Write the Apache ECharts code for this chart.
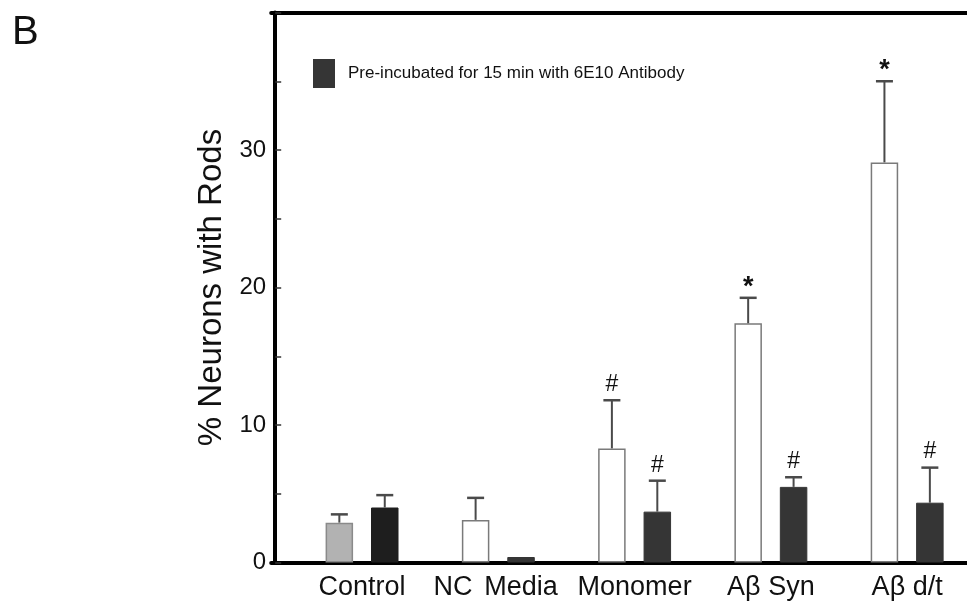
<!DOCTYPE html>
<html>
<head>
<meta charset="utf-8">
<script src="https://cdn.jsdelivr.net/npm/echarts@6/dist/echarts.min.js"></script>
<style>
html,body{margin:0;padding:0;background:#fff;overflow:hidden;width:967px;height:603px;}
#chart{width:1001px;height:603px;}
</style>
</head>
<body>
<div id="chart"></div>
<script>
// ---- data ----
const groups = ['Control', 'NC / Media', 'Monomer', 'Aβ Syn', 'Aβ d/t'];
const plainMeans = [2.9, 3.1, 8.3, 17.4, 29.1];
const plainErrors = [0.6, 1.6, 3.5, 1.85, 5.9];
const plainMarks = ['', '', '#', '*', '*'];
const antibodyMeans = [4.0, 0.4, 3.7, 5.5, 4.35];
const antibodyErrors = [0.9, 0, 2.25, 0.7, 2.55];
const antibodyMarks = ['', '', '#', '#', '#'];
const xTickLabels = ['Control', 'NC', 'Media', 'Monomer', 'Aβ Syn', 'Aβ d/t'];
const legendName = 'Pre-incubated for 15 min with 6E10 Antibody';
const yTicks = [0, 10, 20, 30];

// ---- layout helpers (not data) ----
const labelAt = [2, 4, 5.5, 8, 11, 14];

const slots = ['g0'];
const plainData = [null];
const antibodyData = [null];
const errData = [];
const errMarks = [];
groups.forEach((g, i) => {
  const a = slots.length;
  slots.push(g + ' a', g + ' b', 'gap' + (i + 1));
  const pStyle = i === 0 ? {color: '#b2b2b2', borderColor: '#8a8a8a', borderWidth: 1.5} : undefined;
  const aStyle = i === 0 ? {color: '#1e1e1e', borderColor: '#1e1e1e'} : undefined;
  plainData.push(pStyle ? {value: plainMeans[i], itemStyle: pStyle} : plainMeans[i], null, null);
  antibodyData.push(null, aStyle ? {value: antibodyMeans[i], itemStyle: aStyle} : antibodyMeans[i], null);
  errData.push([a, plainMeans[i], plainErrors[i]]);
  errMarks.push(plainMarks[i]);
  errData.push([a + 1, antibodyMeans[i], antibodyErrors[i]]);
  errMarks.push(antibodyMarks[i]);
});

const chart = echarts.init(document.getElementById('chart'));
const FONT = '"Liberation Sans", Arial, sans-serif';

chart.setOption({
  animation: false,
  backgroundColor: '#fff',
  title: {
    text: 'B', left: 12, top: 13, padding: 0,
    textStyle: {fontFamily: FONT, fontSize: 40, fontWeight: 'normal', color: '#111'}
  },
  legend: {
    data: [legendName],
    left: 313, top: 59, padding: 0,
    icon: 'rect', itemWidth: 20, itemHeight: 27,
    textStyle: {fontFamily: FONT, fontSize: 17, color: '#111', padding: [0, 0, 0, 9]}
  },
  grid: {left: 271.2, right: 0, top: 12.5, bottom: 40.5, containLabel: false},
  xAxis: [
    {
      type: 'category', data: slots, position: 'bottom',
      axisLine: {show: true, lineStyle: {color: '#000', width: 4}},
      axisTick: {show: false}, axisLabel: {show: false}, splitLine: {show: false}
    },
    {
      type: 'value', min: 0, max: 16, interval: 0.5, position: 'bottom', offset: 0,
      axisLine: {show: false}, axisTick: {show: false}, splitLine: {show: false},
      axisLabel: {
        margin: 12, fontFamily: FONT, fontSize: 27, color: '#111',
        formatter: v => { const i = labelAt.indexOf(v); return i >= 0 ? xTickLabels[i] : ''; }
      }
    },
    {
      type: 'value', min: 0, max: 16, position: 'top',
      axisLine: {show: true, onZero: false, lineStyle: {color: '#000', width: 4}},
      axisTick: {show: false}, axisLabel: {show: false}, splitLine: {show: false}
    }
  ],
  yAxis: {
    type: 'value', min: 0, max: 40, interval: 5, offset: -4,
    name: '% Neurons with Rods', nameLocation: 'middle', nameGap: 46,
    nameTextStyle: {fontFamily: FONT, fontSize: 33, color: '#111'},
    axisLine: {show: true, lineStyle: {color: '#000', width: 4}},
    axisTick: {show: true, inside: true, length: 6, lineStyle: {color: '#333', width: 1.5}},
    splitLine: {show: false},
    axisLabel: {
      margin: 9, fontFamily: FONT, fontSize: 24, color: '#111',
      formatter: v => yTicks.indexOf(v) >= 0 ? String(v) : ''
    }
  },
  series: [
    {
      name: 'Treatment', type: 'bar', data: plainData, barWidth: 27.5, barGap: '-100%',
      itemStyle: {color: '#ffffff', borderColor: '#7a7a7a', borderWidth: 1.5}
    },
    {
      name: legendName, type: 'bar', data: antibodyData, barWidth: 27.5, barGap: '-100%',
      itemStyle: {color: '#353535', borderColor: '#353535', borderWidth: 1}
    },
    {
      name: 'errors', type: 'custom', data: errData,
      encode: {x: 0, y: [1, 2]}, z: 5,
      renderItem: (params, api) => {
        const x = api.value(0), m = api.value(1), e = api.value(2);
        const base = api.coord([x, m]);
        const top = api.coord([x, m + e]);
        const children = [];
        if (e > 0) {
          children.push({type: 'line', shape: {x1: base[0], y1: base[1], x2: top[0], y2: top[1]},
            style: {stroke: '#4a4a4a', lineWidth: 2}});
          children.push({type: 'line', shape: {x1: top[0] - 8.5, y1: top[1], x2: top[0] + 8.5, y2: top[1]},
            style: {stroke: '#4a4a4a', lineWidth: 2.5}});
        }
        const mk = errMarks[params.dataIndex];
        if (mk) {
          const star = mk === '*';
          children.push({type: 'text', style: {
            text: mk, x: top[0], y: top[1] - (star ? -3 : 4),
            align: 'center', verticalAlign: 'bottom',
            font: (star ? 'bold 27px ' : '23px ') + FONT, fill: '#111'
          }});
        }
        return {type: 'group', children};
      }
    }
  ]
});
</script>
</body>
</html>
